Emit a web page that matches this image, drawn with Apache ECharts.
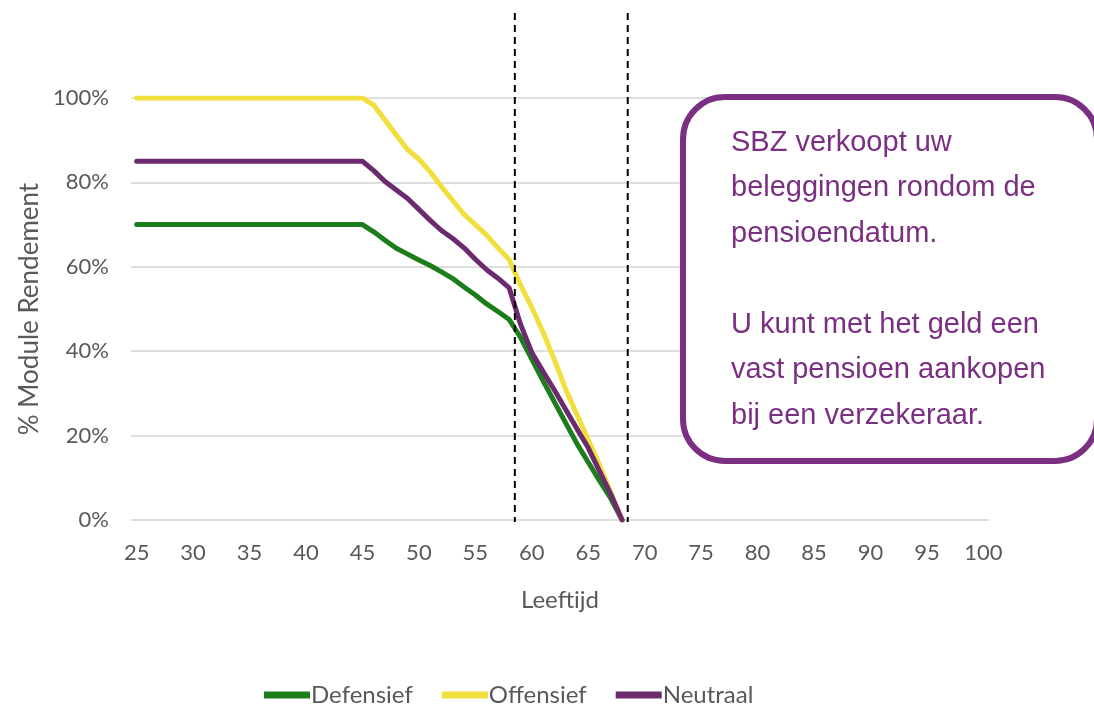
<!DOCTYPE html>
<html lang="nl">
<head>
    <meta charset="UTF-8">
    <title>Module Rendement</title>
    <style>
        html, body { margin: 0; padding: 0; background: #fff; }
        #main { width: 1094px; height: 704px; }
    </style>
</head>
<body>
    <div id="main"></div>
<script src="https://cdn.jsdelivr.net/npm/echarts@6/dist/echarts.min.js"></script>
<script type="text/javascript">
// leeftijden op de x-as (categorie per jaar, label elke 5 jaar)
var ages = ['25','26','27','28','29','30','31','32','33','34','35','36','37','38','39',
    '40','41','42','43','44','45','46','47','48','49','50','51','52','53','54',
    '55','56','57','58','59','60','61','62','63','64','65','66','67','68','69',
    '70','71','72','73','74','75','76','77','78','79','80','81','82','83','84',
    '85','86','87','88','89','90','91','92','93','94','95','96','97','98','99','100'];

// % module rendement per leeftijd, 25 t/m 68
var defensief = [70,70,70,70,70,70,70,70,70,70,70,70,70,70,70,70,70,70,70,70,
    70,68.3,66.3,64.4,63,61.6,60.3,58.8,57.2,55.2,53.3,51.2,49.4,47.5,43.3,38.1,
    33,28,23,18.1,13.7,9.3,5.1,0];
var offensief = [100,100,100,100,100,100,100,100,100,100,100,100,100,100,100,100,100,100,100,100,
    100,98.3,94.8,91.2,87.8,85.5,82.5,79,75.7,72.4,70,67.5,64.5,61.7,55.7,50.4,
    44.5,38,31,25,19,13,6.5,0];
var neutraal = [85,85,85,85,85,85,85,85,85,85,85,85,85,85,85,85,85,85,85,85,
    85,82.8,80.2,78.2,76.2,73.6,71,68.6,66.7,64.5,61.8,59.3,57.3,55,46.4,39.7,
    35.2,30.8,26.2,21.6,17.1,11.6,6.1,0];

// stippellijnen liggen tussen deze leeftijd en de volgende
var dividerAfter = ['58', '68'];

var noteText = 'SBZ verkoopt uw\nbeleggingen rondom de\npensioendatum.\n\nU kunt met het geld een\nvast pensioen aankopen\nbij een verzekeraar.';

var axisFont = 'Lato, "Open Sans", sans-serif';
var grey = '#595959';
var purple = '#7a2f82';

var dom = document.getElementById('main');
var myChart = echarts.init(dom);

function line(name, data, color) {
    return {
        name: name,
        type: 'line',
        data: data,
        symbol: 'none',
        smooth: false,
        color: color,
        lineStyle: { width: 5, color: color, join: 'round', cap: 'round' },
        z: 3
    };
}

var option = {
    animation: false,
    backgroundColor: '#fff',
    grid: { left: 131, right: 105, top: 98, bottom: 184 },
    legend: {
        left: 259,
        top: 678,
        itemWidth: 46,
        itemHeight: 7,
        itemGap: 29,
        icon: 'rect',
        textStyle: { color: grey, fontFamily: axisFont, fontSize: 24, padding: [0, 0, 0, -4] },
        data: ['Defensief', 'Offensief', 'Neutraal']
    },
    xAxis: {
        type: 'category',
        data: ages,
        boundaryGap: true,
        name: 'Leeftijd',
        nameLocation: 'middle',
        nameGap: 68,
        nameTextStyle: { color: grey, fontFamily: axisFont, fontSize: 24 },
        axisLine: { show: false },
        axisTick: { show: false },
        axisLabel: { interval: 4, color: grey, fontFamily: axisFont, fontSize: 22, margin: 22 },
        splitLine: { show: false }
    },
    yAxis: {
        type: 'value',
        min: 0,
        max: 100,
        interval: 20,
        name: '% Module Rendement',
        nameLocation: 'middle',
        nameGap: 86,
        nameTextStyle: { color: grey, fontFamily: axisFont, fontSize: 26 },
        axisLine: { show: false },
        axisTick: { show: false },
        axisLabel: { formatter: '{value}%', color: grey, fontFamily: axisFont, fontSize: 22, margin: 22 },
        splitLine: { lineStyle: { color: '#dedede', width: 2 } }
    },
    series: [
        line('Defensief', defensief, '#1b7d1b'),
        line('Offensief', offensief, '#f0df3c'),
        line('Neutraal', neutraal, '#6c2a6f')
    ]
};
myChart.setOption(option);

// stippellijnen en tekstvak
var graphics = [];
dividerAfter.forEach(function (age) {
    var i = ages.indexOf(age);
    var x = (myChart.convertToPixel({ xAxisIndex: 0 }, ages[i]) +
        myChart.convertToPixel({ xAxisIndex: 0 }, ages[i + 1])) / 2;
    graphics.push({
        type: 'line',
        shape: { x1: x, y1: 13, x2: x, y2: 522 },
        style: { stroke: '#000', lineWidth: 2, lineDash: [7, 5] },
        z: 10
    });
});
graphics.push({
    type: 'rect',
    shape: { x: 683, y: 97, width: 414, height: 364, r: 42 },
    style: { fill: '#fff', stroke: purple, lineWidth: 6 },
    z: 20
});
graphics.push({
    type: 'text',
    left: 731,
    top: 120,
    style: {
        text: noteText,
        fill: purple,
        font: '29px "Liberation Sans", Arial, sans-serif',
        lineHeight: 45.5
    },
    z: 21
});
myChart.setOption({ graphic: graphics });
</script>
</body>
</html>
